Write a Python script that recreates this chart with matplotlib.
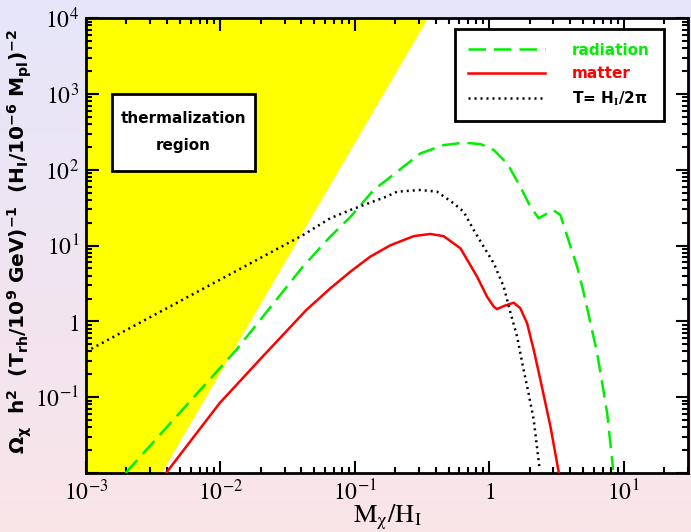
import matplotlib
matplotlib.use('Agg')
import matplotlib.pyplot as plt
import numpy as np
from matplotlib.patches import Rectangle
from matplotlib.ticker import FixedLocator, FuncFormatter, LogLocator

plt.rcParams['mathtext.fontset'] = 'stix'

# curves (x = M_chi/H_I)
rad_x = [0.00197, 0.0131, 0.0410, 0.0656, 0.0925, 0.138, 0.206, 0.307, 0.457, 0.644,
         0.859, 1.08, 1.21, 1.36, 1.70, 2.02, 2.33, 2.99, 3.38, 4.02,
         4.50, 5.05, 5.66, 6.34, 6.92, 7.53, 8.34]
rad_y = [0.01, 0.419, 5.26, 13.1, 23.8, 54.0, 94.0, 164, 211, 227,
         218, 182, 148, 121, 59.6, 32.5, 22.9, 29.4, 25.2, 9.64,
         5.26, 2.34, 0.942, 0.378, 0.152, 0.0612, 0.011]

mat_x = [0.00394, 0.00984, 0.0195, 0.0435, 0.0656, 0.0925, 0.130, 0.184, 0.274, 0.364,
         0.457, 0.610, 0.811, 0.962, 1.08, 1.14, 1.28, 1.52, 1.70, 1.91,
         2.14, 2.40, 2.85, 3.29]
mat_y = [0.01, 0.083, 0.309, 1.41, 2.72, 4.51, 7.13, 10.1, 13.3, 14.2,
         13.3, 9.18, 3.88, 2.11, 1.56, 1.45, 1.59, 1.76, 1.49, 0.942,
         0.419, 0.168, 0.0408, 0.01]

tem_x = [0.001, 0.041, 0.0656, 0.0925, 0.171, 0.206, 0.307, 0.408, 0.543, 0.644,
         0.766, 0.908, 1.08, 1.28, 1.44, 1.61, 1.80, 1.96, 2.14, 2.37]
tem_y = [0.398, 13.7, 22.9, 29.4, 44.0, 51.3, 54.0, 51.3, 36.0, 27.9,
         16.0, 9.64, 5.82, 2.86, 1.28, 0.627, 0.228, 0.112, 0.050, 0.011]

# edge of the thermalization region
therm_x = [0.00366, 0.35]
therm_y = [1e-2, 1e4]

xlim = (1e-3, 30)
ylim = (1e-2, 1e4)

fig = plt.figure(figsize=(6.91, 5.32), dpi=100)

# lavender -> pink background
bg = fig.add_axes([0, 0, 1, 1], zorder=-10)
top = np.array([230, 230, 250]) / 255.
bot = np.array([250, 228, 232]) / 255.
t = np.linspace(0, 1, 256)[:, None]
grad = (top * (1 - t) + bot * t)[:, None, :]
bg.imshow(grad, aspect='auto', extent=[0, 1, 0, 1])
bg.axis('off')

ax = fig.add_axes([0.1245, 0.111, 0.871, 0.855])
ax.set_facecolor('white')
ax.set_xscale('log')
ax.set_yscale('log')

ax.fill([xlim[0], therm_x[0], therm_x[1], xlim[0]],
        [therm_y[0], therm_y[0], therm_y[1], therm_y[1]],
        color='yellow', lw=0, zorder=1)

ax.plot(rad_x, rad_y, color='#00ee00', lw=1.8, dashes=(7, 3.2), label='radiation', zorder=3)
ax.plot(mat_x, mat_y, color='red', lw=1.8, label='matter', zorder=3)
ax.plot(tem_x, tem_y, color='black', lw=1.8, dashes=(0.8, 1.6), label=r'T= H$_{\mathbf{I}}$/2π', zorder=3)

ax.set_xlim(*xlim)
ax.set_ylim(*ylim)


def logfmt(v, pos):
    e = int(round(np.log10(v)))
    if e == 0:
        return r'$1$'
    return r'$10^{%d}$' % e


ax.xaxis.set_major_locator(FixedLocator([1e-3, 1e-2, 1e-1, 1, 10]))
ax.yaxis.set_major_locator(FixedLocator([1e-2, 1e-1, 1, 10, 100, 1e3, 1e4]))
ax.xaxis.set_minor_locator(LogLocator(base=10, subs=np.arange(2, 10)))
ax.yaxis.set_minor_locator(LogLocator(base=10, subs=np.arange(2, 10)))
ax.xaxis.set_major_formatter(FuncFormatter(logfmt))
ax.yaxis.set_major_formatter(FuncFormatter(lambda v, p: '' if v == 1e-2 else logfmt(v, p)))
ax.xaxis.set_minor_formatter(FuncFormatter(lambda v, p: ''))
ax.yaxis.set_minor_formatter(FuncFormatter(lambda v, p: ''))

ax.tick_params(which='both', direction='in', top=True, right=True, width=1.5)
ax.tick_params(which='major', length=9, labelsize=17, pad=5)
ax.tick_params(which='minor', length=4.5)
for s in ax.spines.values():
    s.set_linewidth(2)

ax.set_xlabel(r'$\mathrm{M_{\chi}/H_{I}}$', fontsize=19)
ax.xaxis.set_label_coords(0.5, -0.066)
ax.set_ylabel(r'$\mathbf{\Omega_{\chi}\ \ h^{2}\ \ (T_{rh}/10^{9}\ GeV)^{-1}\ \ (H_{I}/10^{-6}\ M_{pl})^{-2}}$',
              fontsize=14.5, math_fontfamily='dejavusans', va='center')
ax.yaxis.set_label_coords(-0.11, 0.51)

ax.add_patch(Rectangle((0.043, 0.664), 0.238, 0.169, transform=ax.transAxes,
                       facecolor='white', edgecolor='black', lw=2, zorder=4))
ax.text(0.162, 0.749, 'thermalization\nregion', transform=ax.transAxes,
        ha='center', va='center', fontsize=11, fontweight='bold', linespacing=2.0, zorder=5)

leg = ax.legend(loc='upper right', bbox_to_anchor=(0.96, 0.976), borderaxespad=0,
                handlelength=5, handletextpad=1.8, labelspacing=0.55, borderpad=0.9,
                fancybox=False, framealpha=1, edgecolor='black',
                prop={'weight': 'bold', 'size': 11}, labelcolor='linecolor')
leg.get_frame().set_linewidth(2)
leg.set_zorder(6)

fig.savefig('out.png', dpi=100)
